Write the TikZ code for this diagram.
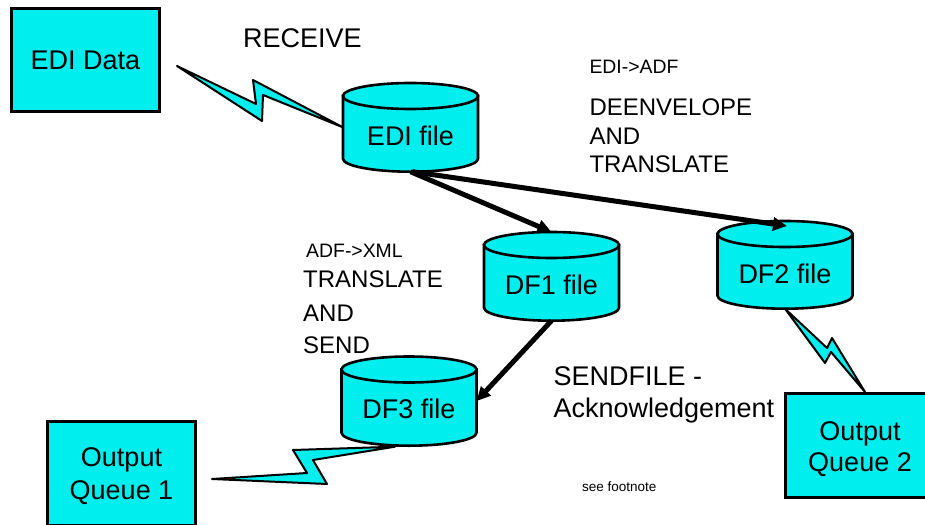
\documentclass[tikz,border=0pt]{standalone}
\usepackage{fontspec}
\setmainfont{Liberation Sans}
\usetikzlibrary{arrows.meta,calc}
\definecolor{boxcyan}{RGB}{0,238,238}
\newcommand{\mycyl}[7]{%
  \path[cylbody] ({#2-#5},#3) -- ({#2-#5},#4) arc[start angle=180,end angle=0,x radius=#5,y radius=#6] -- ({#2+#5},#3) -- cycle;
  \path[cylbody] (#2,#3) ellipse[x radius=#5,y radius=#6];
  \coordinate (#1-top) at (#2,{#3-#6});
  \coordinate (#1-bot) at (#2,{#4+#6});
  \coordinate (#1-left) at ({#2-#5},{(#3+#4)/2});
  \coordinate (#1-right) at ({#2+#5},{(#3+#4)/2});
  \node[big,anchor=base] (#1) at (#2,{#3+49}) {#7};
}
\begin{document}
\begin{tikzpicture}[x=1pt,y=-1pt,
  box/.style={draw=black,fill=boxcyan,line width=3pt,inner sep=0pt,align=center,font=\fontsize{27}{32}\selectfont},
  cylbody/.style={draw=black,fill=boxcyan,line width=2.6pt},
  bolt/.style={draw=black,fill=boxcyan,line width=2pt,line join=round},
  flow/.style={draw=black,line width=5pt,-{Triangle[length=14pt,width=13pt]}},
  big/.style={inner sep=0pt,font=\fontsize{27}{32}\selectfont},
  mid/.style={inner sep=0pt,font=\fontsize{24}{29}\selectfont},
  small/.style={inner sep=0pt,font=\fontsize{19.4}{23}\selectfont},
  tiny/.style={inner sep=0pt,font=\fontsize{13.5}{16}\selectfont}]
\useasboundingbox (0,0) rectangle (925,524);
\clip (0,0) rectangle (925,524);

% boxes
\node[box,minimum width=148pt,minimum height=103pt] (edidata) at (85.5,60) {EDI Data};
\node[box,minimum width=148pt,minimum height=104pt] (queue1) at (121.5,473) {};
\node[big,anchor=base] (q1a) at (121.5,466.7) {Output};
\node[big,anchor=base] (q1b) at (121.5,499.3) {Queue 1};
\node[box,minimum width=150pt,minimum height=104pt] (queue2) at (860,445.5) {};
\node[big,anchor=base] (q2a) at (860,440.7) {Output};
\node[big,anchor=base] (q2b) at (860,471.7) {Queue 2};

% cylinders
\mycyl{edi}{410.5}{96}{158.7}{67.5}{13}{EDI file}
\mycyl{df1}{551.5}{245}{307.7}{67.5}{13}{DF1 file}
\mycyl{df3}{409}{369.5}{432.7}{67.5}{13}{DF3 file}
\mycyl{df2}{785}{234}{295.7}{67.5}{13}{DF2 file}

% lightning connectors
\coordinate (b1s) at (177,66);
\coordinate (b2s) at (212,479);
\path[bolt] (b1s) -- (262,121) -- (263,95) -- (edi-left) -- (253,80) -- (256,104) -- cycle;
\path[bolt] (b2s) -- (307,473) -- (293,450) -- ($(df3-bot)+(-14,1)$) -- (313,460) -- (327,484) -- cycle;
\path[bolt] (df2-bot) -- (825,363) -- (831,352) -- ($(queue2.north)+(5,0)$) -- (832,338) -- (827,348) -- cycle;

% arrows
\draw[flow] (edi-bot) -- (df1-top);
\draw[flow] ($(edi-bot)+(2,0)$) -- ($(df2-top)+(2,5)$);
\draw[flow] (df1-bot) -- (df3-right);

% texts
\node[big,anchor=base west] (receive) at (243,47.5) {RECEIVE};
\node[small,anchor=base west] (ediadf) at (589.3,73.3) {EDI->ADF};
\node[mid,anchor=base west] (deenv) at (589.3,115) {DEENVELOPE};
\node[mid,anchor=base west] (anda) at (589.3,144) {AND};
\node[mid,anchor=base west] (transa) at (589.3,172.7) {TRANSLATE};
\node[small,anchor=base west] (adfxml) at (306,257.3) {ADF->XML};
\node[mid,anchor=base west] (transb) at (303,287.3) {TRANSLATE};
\node[mid,anchor=base west] (andb) at (303,321.7) {AND};
\node[mid,anchor=base west] (sendb) at (303,353.3) {SEND};
\node[big,anchor=base west] (sendfile) at (553.3,385) {SENDFILE -};
\node[big,anchor=base west] (ack) at (553.3,417.5) {Acknowledgement};
\node[tiny,anchor=base west] (footnote) at (582,491.7) {see footnote};
\end{tikzpicture}
\end{document}
